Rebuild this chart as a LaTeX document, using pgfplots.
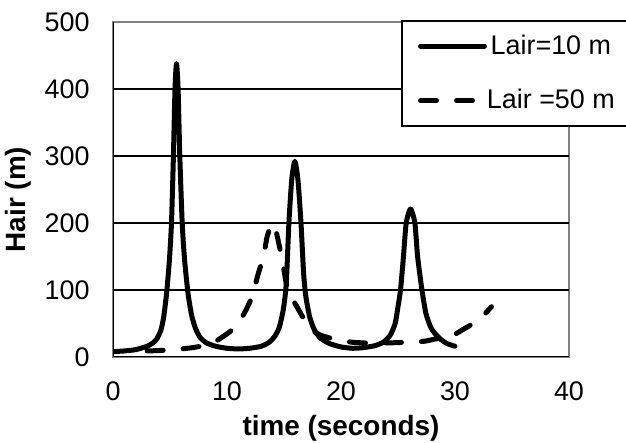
\documentclass[border=0pt]{standalone}
\usepackage{pgfplots}
\pgfplotsset{compat=1.18}
\usepackage{fontspec}
\setmainfont{Liberation Sans}
\usetikzlibrary{calc}

\begin{document}
\begin{tikzpicture}
\begin{axis}[
    width=228bp, height=167.5bp, scale only axis,
    xmin=0, xmax=40, ymin=0, ymax=500,
    xtick={0,10,...,40}, ytick={0,100,...,500},
    extra y ticks={100,200,300,400}, extra y tick labels={},
    extra y tick style={grid=major, major grid style={black, line width=0.75bp}},
    major tick length=0pt,
    axis line style={draw=gray, line width=1bp},
    tick label style={font=\fontsize{13.5}{16}\selectfont, inner sep=0pt},
    /pgf/number format/assume math mode=true,
    xticklabel style={anchor=north, yshift=-12bp},
    yticklabel style={anchor=east, xshift=-11.5bp},
    xlabel={time (seconds)}, ylabel={Hair (m)},
    label style={font=\bfseries\fontsize{14}{16}\selectfont},
    xlabel style={at={(axis description cs:0.5,-0.212)}, anchor=center},
    ylabel style={at={(axis description cs:-0.208,0.47)}, anchor=center},
    legend style={at={(rel axis cs:0.632,1.006)}, anchor=north west,
        draw=black, line width=0.8bp, fill=white,
        font=\fontsize{13.5}{16}\selectfont,
        inner xsep=8bp, inner ysep=7bp, row sep=16bp,
        nodes={inner sep=0pt},
        /tikz/every even column/.append style={column sep=5bp}},
    legend image code/.code={\draw[#1] (0bp,0bp) -- (32bp,0bp);},
    every axis plot/.append style={black, line width=2.5bp, line cap=round, line join=round},
]

\addplot[smooth, tension=0.4] coordinates {
    (0,8) (1,9) (2,11) (3,16) (3.5,21) (3.85,27) (4.2,40) (4.45,60) (4.7,95)
    (4.95,145) (5.13,200) (5.3,300) (5.44,400) (5.57,438) (5.71,400) (5.86,300)
    (6.07,200) (6.28,145) (6.58,95) (6.9,62) (7.25,42) (7.65,29) (8.2,21) (9,16)
    (10,13) (11,12) (12,13) (13,16) (13.7,22) (14.2,31) (14.6,45) (14.95,72)
    (15.2,110) (15.43,200) (15.68,265) (15.95,292) (16.22,265) (16.49,200)
    (16.72,125) (16.92,90) (17.25,60) (17.65,41) (18.2,28) (19,20) (20,15) (21,13)
    (22,14) (23,17) (23.7,22) (24.3,32) (24.75,50) (25.0,75) (25.22,100)
    (25.48,150) (25.72,200) (26.1,221) (26.48,200) (26.72,150) (27.1,100)
    (27.45,65) (27.85,45) (28.15,37) (28.7,27) (29.3,20) (30,16)
};
\addlegendentry{Lair=10 m}

\addplot[smooth, tension=0.4, dash pattern=on 8bp off 10bp] coordinates {
    (3,9) (4.5,10) (6,12) (7,14) (8,17) (8.8,21) (9.6,30) (10.2,37) (10.7,45)
    (11.2,56) (11.6,68) (12.0,82) (12.3,95) (12.7,122) (13.2,150) (13.5,178)
    (13.8,194) (14.05,199) (14.3,188) (14.6,165) (14.9,140) (15.2,110)
    (15.5,96) (15.8,85) (16.3,70) (16.7,58) (17.2,45) (17.6,38) (18.3,32)
    (19.3,27) (20.2,24) (21,22) (22,21) (23,21) (24.1,21) (25,21.5) (25.9,22)
    (27,23) (27.5,24) (28.3,27) (29.1,30) (30,34) (30.6,40) (31.3,47) (32,55)
    (32.6,64) (33.2,75)
};
\addlegendentry{Lair =50 m}

\draw[black, line width=1bp] (rel axis cs:0,1) -- (rel axis cs:0,0) -- (rel axis cs:1,0);
\coordinate (O) at (rel axis cs:0,0);
\coordinate (E) at (rel axis cs:1,1);
\end{axis}
\pgfresetboundingbox
\path[use as bounding box] ($(O)+(-56.5bp,-43bp)$) rectangle ($(E)+(28.5bp,11bp)$);
\end{tikzpicture}
\end{document}
